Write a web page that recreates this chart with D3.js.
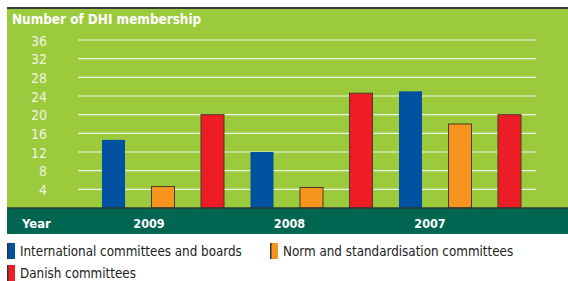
<!DOCTYPE html>
<html><head><meta charset="utf-8">
<script src="https://cdn.jsdelivr.net/npm/d3@7"></script>
<style>body{margin:0;background:#fff}svg{display:block}text{font-family:"DejaVu Sans Condensed","DejaVu Sans",sans-serif}</style>
</head><body>
<script>
const years = ["2009","2008","2007"];
const seriesNames = ["International committees and boards","Norm and standardisation committees","Danish committees"];
const intl   = [14.6, 12, 25];
const norm   = [4.6, 4.4, 18];
const danish = [20, 24.6, 20];
const yTicks = [4,8,12,16,20,24,28,32,36];
const colors = ["#0052a1","#f7941e","#ee1c25"];

const W=568,H=281;
const svg=d3.select("body").append("svg").attr("width",W).attr("height",H);

const values=[intl,norm,danish];
const rows=[];
years.forEach((yr,gi)=>seriesNames.forEach((s,si)=>rows.push({key:yr+"|"+si,year:yr,s:si,v:values[si][gi]})));

const x=d3.scaleBand().domain(rows.map(d=>d.key)).range([88.75,534.25]).paddingInner(0.535).paddingOuter(0.2675);
const y=d3.scaleLinear().domain([0,36]).range([208,40]);
const xl=d3.scalePoint().domain(years).range([149,430]);

svg.append("rect").attr("x",7).attr("y",8).attr("width",W-7).attr("height",200).attr("fill","#9bca3c");
svg.append("line").attr("x1",7).attr("x2",W).attr("y1",8).attr("y2",8).attr("stroke","#3a3a3a").attr("stroke-width",2);
svg.append("rect").attr("x",7).attr("y",208).attr("width",W-7).attr("height",26).attr("fill","#006651");

svg.append("text").attr("x",12).attr("y",24).attr("fill","#fff").attr("font-weight","bold").attr("font-size",13.4).text("Number of DHI membership");

const yAxis=d3.axisLeft(y).tickValues(yTicks).tickSize(0).tickPadding(0);
const ga=svg.append("g").attr("transform","translate(47,0)").call(yAxis);
ga.select(".domain").remove();
ga.selectAll("text").attr("fill","#eef4e2").attr("font-size",14).attr("font-family","DejaVu Sans Condensed, sans-serif").attr("dy","0.36em");
svg.append("g").selectAll("line").data(yTicks).join("line")
 .attr("x1",78).attr("x2",536).attr("y1",d=>y(d)).attr("y2",d=>y(d))
 .attr("stroke","#eef4e2").attr("stroke-width",1.2);

svg.append("g").selectAll("rect").data(rows).join("rect")
 .attr("x",d=>x(d.key)).attr("width",x.bandwidth())
 .attr("y",d=>y(d.v)).attr("height",d=>y(0)-y(d.v))
 .attr("fill",d=>colors[d.s])
 .attr("stroke",d=>d.s===0?"none":"#4a3b2a").attr("stroke-width",1);

svg.append("line").attr("x1",7).attr("x2",W).attr("y1",208).attr("y2",208).attr("stroke","#2d3a30").attr("stroke-width",1.5);

svg.append("text").attr("x",22).attr("y",228).attr("fill","#fff").attr("font-weight","bold").attr("font-size",13).text("Year");
svg.append("g").selectAll("text").data(years).join("text")
 .attr("x",d=>xl(d)).attr("y",228).attr("text-anchor","middle").attr("fill","#fff").attr("font-weight","bold").attr("font-size",12.5).text(d=>d);

const leg=[{s:0,x:7,y:243},{s:1,x:270,y:243},{s:2,x:7,y:265}];
const lg=svg.append("g").selectAll("g").data(leg).join("g").attr("transform",d=>`translate(${d.x},${d.y})`);
lg.append("rect").attr("width",8).attr("height",16).attr("fill",d=>colors[d.s]);
lg.append("rect").attr("width",1.5).attr("height",16).attr("fill","#333");
lg.append("text").attr("x",13).attr("y",13).attr("font-size",13.3).attr("fill","#222").text(d=>seriesNames[d.s]);
</script>
</body></html>
